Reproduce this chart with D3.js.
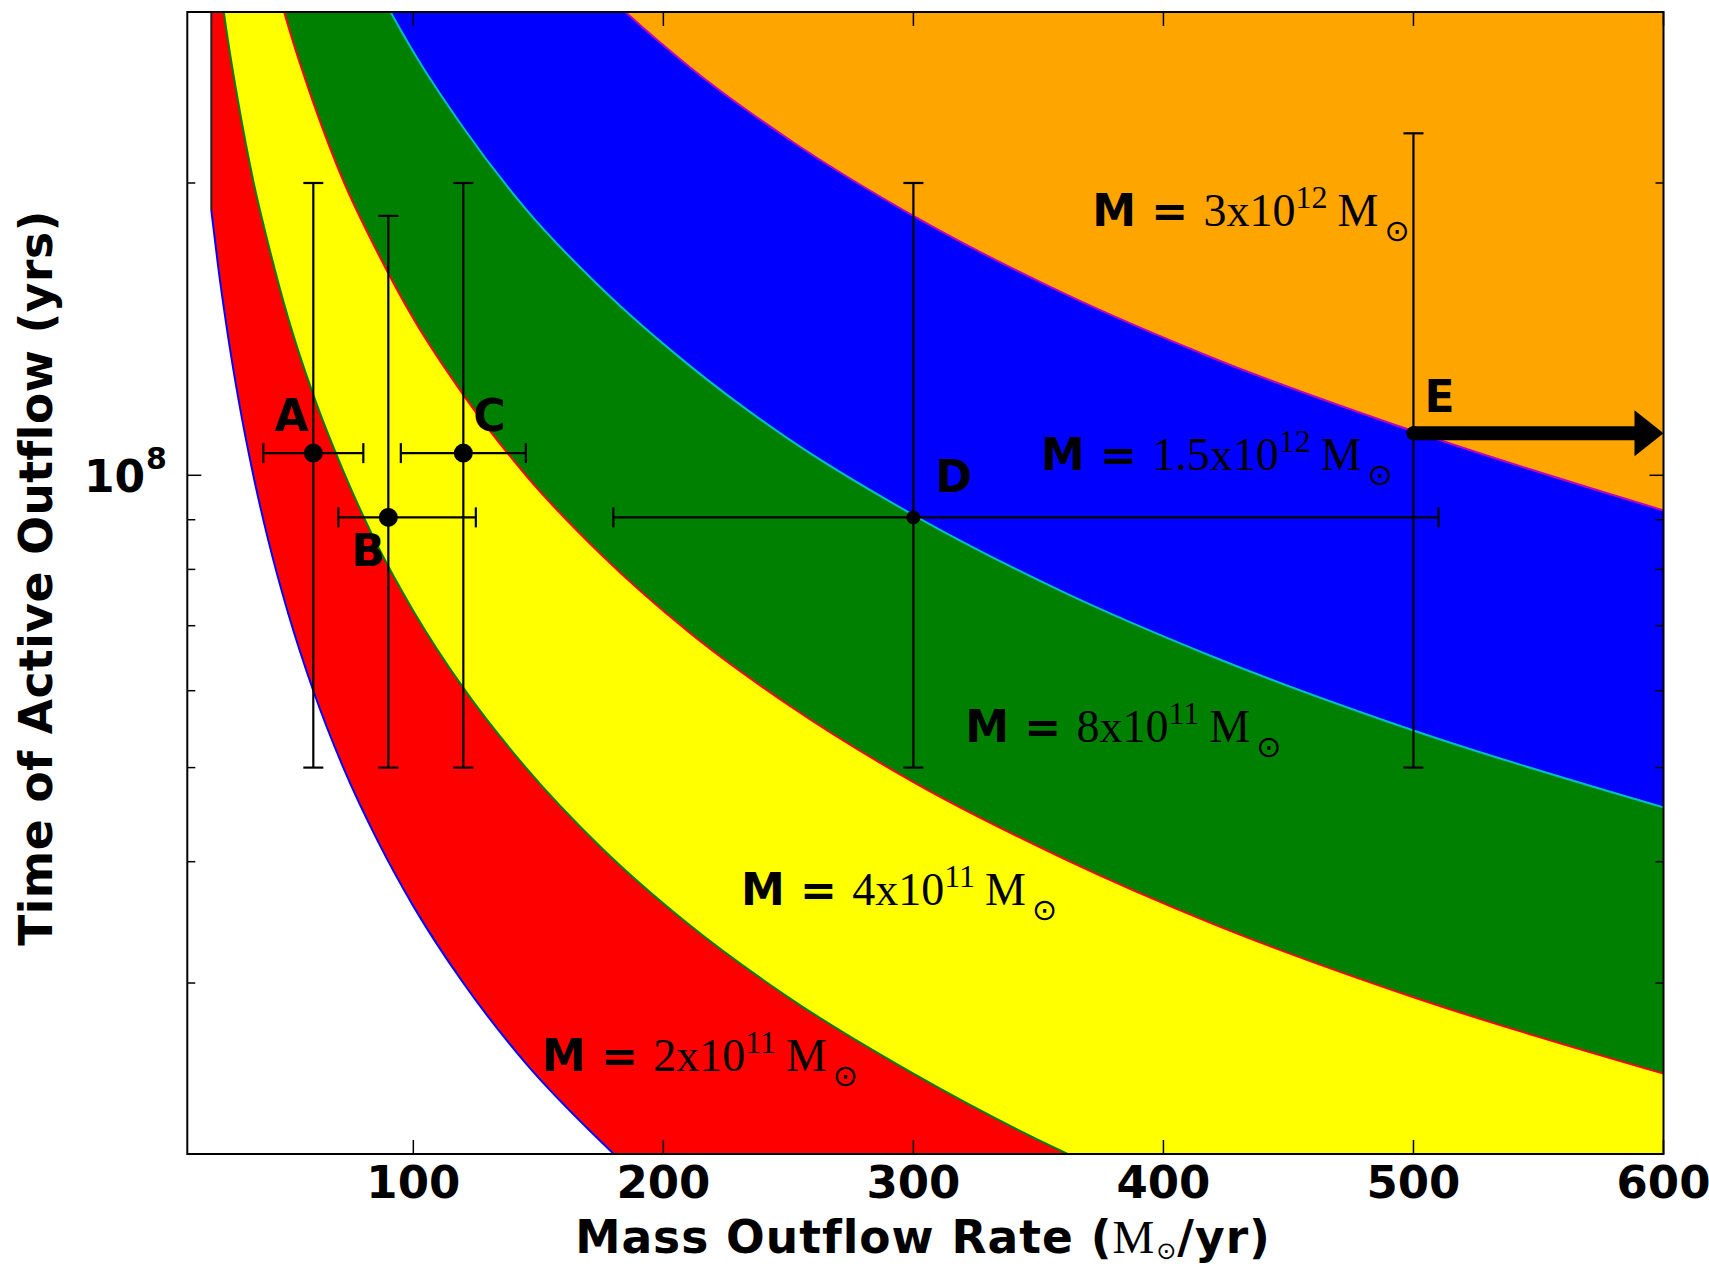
<!DOCTYPE html>
<html>
<head>
<meta charset="utf-8">
<script src="https://cdn.jsdelivr.net/npm/d3@7"></script>
<style>
  html, body { margin: 0; padding: 0; background: #fff; }
  svg text { white-space: pre; }
</style>
</head>
<body>
<svg id="chart" width="1709" height="1267"></svg>
<script>
// ---------------- DATA ----------------
// sampled mass outflow rate (Msun/yr) at which the boundary curves are read
const rateSamples = [19.2, 22, 26, 30, 36, 42, 50, 60, 72, 86, 100, 120, 145, 175, 210, 250, 300, 360, 420, 500, 600];
// boundary curves: time of active outflow (yrs) read at each sample rate
const boundary1 = [1.875e8, 1.636e8, 1.385e8, 1.2e8, 1.0e8, 8.57e7, 7.2e7, 6.0e7, 5.0e7, 4.19e7, 3.6e7, 3.0e7, 2.48e7, 2.06e7, 1.71e7, 1.44e7, 1.2e7, 1.0e7, 8.57e6, 7.2e6, 6.0e6];
const boundary2 = [3.78e8, 3.30e8, 2.79e8, 2.42e8, 2.01e8, 1.73e8, 1.45e8, 1.21e8, 1.01e8, 8.43e7, 7.25e7, 6.04e7, 5.0e7, 4.14e7, 3.45e7, 2.9e7, 2.42e7, 2.01e7, 1.73e7, 1.45e7, 1.21e7];
const boundary3 = [7.55e8, 6.59e8, 5.58e8, 4.83e8, 4.03e8, 3.45e8, 2.9e8, 2.42e8, 2.01e8, 1.69e8, 1.45e8, 1.21e8, 1.0e8, 8.29e7, 6.9e7, 5.8e7, 4.83e7, 4.03e7, 3.45e7, 2.9e7, 2.42e7];
const boundary4 = [1.42e9, 1.24e9, 1.05e9, 9.1e8, 7.58e8, 6.5e8, 5.46e8, 4.55e8, 3.79e8, 3.17e8, 2.73e8, 2.28e8, 1.88e8, 1.56e8, 1.3e8, 1.09e8, 9.1e7, 7.58e7, 6.5e7, 5.46e7, 4.55e7];
const boundary5 = [2.88e9, 2.52e9, 2.14e9, 1.85e9, 1.54e9, 1.32e9, 1.11e9, 9.25e8, 7.7e8, 6.45e8, 5.55e8, 4.62e8, 3.83e8, 3.17e8, 2.64e8, 2.22e8, 1.85e8, 1.54e8, 1.32e8, 1.11e8, 9.2e7];

// band labels
const bandMantissa = ["2", "4", "8", "1.5", "3"];
const bandExponent = ["11", "11", "11", "12", "12"];
const bandLabelX = [151.4, 231, 320.7, 351, 371.5];
const bandLabelY = [2.435e7, 3.61e7, 5.31e7, 1.012e8, 1.805e8];

// observed outflows
const pointNames = ["A", "B", "C", "D", "E"];
const pointRate = [60, 90, 120, 300, 500];
const pointTime = [1.054e8, 9.05e7, 1.054e8, 9.05e7, 1.105e8];
const rateErrLow = [40, 70, 95, 180, null];
const rateErrHigh = [80, 125, 145, 510, null];
const timeErrLow = [5e7, 5e7, 5e7, 5e7, 5e7];
const timeErrHigh = [2e8, 1.85e8, 2e8, 2e8, 2.25e8];
const lowerLimit = [false, false, false, false, true];

// axes
const xDomain = [9.6, 600];
const yDomain = [2e7, 3e8];
const xTicks = [100, 200, 300, 400, 500, 600];
const yMajorTicks = [1e8];
const yMinorTicks = [2e7, 3e7, 4e7, 5e7, 6e7, 7e7, 8e7, 9e7, 2e8, 3e8];

// ---------------- STYLE / LAYOUT ----------------
const bandFill = ["#ff0000", "#ffff00", "#008000", "#0000ff", "#ffa500"];
const boundaryStroke = ["#0000ff", "#008000", "#ff0000", "#00bfbf", "#bf00bf"];
const labelOffsets = { A: [-39, -22], B: [-37, 49], C: [10, -22], D: [22, -25], E: [11, -21] };
const plot = { left: 187.3, right: 1663.5, top: 12, bottom: 1154 };
const SANS = "'DejaVu Sans', sans-serif";
const SERIF = "'Liberation Serif', 'DejaVu Serif', serif";
const FS = 44;

const svg = d3.select("#chart");
const x = d3.scaleLinear().domain(xDomain).range([plot.left, plot.right]);
const y = d3.scaleLog().domain(yDomain).range([plot.bottom, plot.top]);

svg.append("defs").append("clipPath").attr("id", "clip")
  .append("rect").attr("x", plot.left).attr("y", plot.top)
  .attr("width", plot.right - plot.left).attr("height", plot.bottom - plot.top);

const g = svg.append("g").attr("clip-path", "url(#clip)");

const boundaries = [boundary1, boundary2, boundary3, boundary4, boundary5];
const rows = rateSamples.map((r, i) => ({ r, b: boundaries.map(b => b[i]) }));

// bands
for (let k = 0; k < 5; k++) {
  const area = d3.area()
    .x(d => x(d.r))
    .y0(d => y(d.b[k]))
    .y1(d => k < 4 ? y(d.b[k + 1]) : y.range()[1] - 5)
    .curve(d3.curveMonotoneX);
  g.append("path").datum(rows).attr("d", area).attr("fill", bandFill[k]);
}
// left edge of the filled region
g.append("line")
  .attr("x1", x(rateSamples[0])).attr("x2", x(rateSamples[0]))
  .attr("y1", y.range()[1] - 5).attr("y2", y(boundary1[0]))
  .attr("stroke", "#222").attr("stroke-width", 2);
// boundary curves
for (let k = 0; k < 5; k++) {
  const line = d3.line().x(d => x(d.r)).y(d => y(d.b[k])).curve(d3.curveMonotoneX);
  g.append("path").datum(rows).attr("d", line).attr("fill", "none")
    .attr("stroke", boundaryStroke[k]).attr("stroke-width", 2);
}

// band labels
function massLabel(parent, px, py, mant, expo) {
  const t = parent.append("text").attr("x", px).attr("y", py).attr("font-size", FS).attr("fill", "#000");
  t.append("tspan").attr("font-family", SANS).attr("font-weight", "bold").text("M = ");
  t.append("tspan").attr("font-family", SERIF).attr("font-size", 46).text(mant + "x10");
  t.append("tspan").attr("font-family", SERIF).attr("font-size", 32).attr("dy", -18).text(expo);
  t.append("tspan").attr("font-family", SERIF).attr("font-size", 46).attr("dy", 18).attr("dx", 10).text("M");
  t.append("tspan").attr("font-family", SANS).attr("font-size", 30).attr("dy", 15).attr("dx", 6).text("\u2299");
}
for (let i = 0; i < bandMantissa.length; i++) {
  massLabel(svg, x(bandLabelX[i]), y(bandLabelY[i]), bandMantissa[i], bandExponent[i]);
}

// error bars and points
const eb = svg.append("g").attr("stroke", "#000").attr("stroke-width", 2.2).attr("fill", "none");
const cap = 10;
pointNames.forEach((name, i) => {
  const px = x(pointRate[i]), py = y(pointTime[i]);
  const yl = y(timeErrLow[i]), yh = y(timeErrHigh[i]);
  eb.append("line").attr("x1", px).attr("x2", px).attr("y1", yl).attr("y2", yh);
  eb.append("line").attr("x1", px - cap).attr("x2", px + cap).attr("y1", yl).attr("y2", yl);
  eb.append("line").attr("x1", px - cap).attr("x2", px + cap).attr("y1", yh).attr("y2", yh);
  if (rateErrLow[i] != null) {
    const xl = x(rateErrLow[i]), xh = x(rateErrHigh[i]);
    eb.append("line").attr("x1", xl).attr("x2", xh).attr("y1", py).attr("y2", py);
    eb.append("line").attr("x1", xl).attr("x2", xl).attr("y1", py - cap).attr("y2", py + cap);
    eb.append("line").attr("x1", xh).attr("x2", xh).attr("y1", py - cap).attr("y2", py + cap);
  }
  if (lowerLimit[i]) {
    const xEnd = x(xDomain[1]);
    const head = 29, hh = 23;
    svg.append("line").attr("x1", px).attr("x2", xEnd - head + 2).attr("y1", py).attr("y2", py)
      .attr("stroke", "#000").attr("stroke-width", 14).attr("stroke-linecap", "round");
    svg.append("path")
      .attr("d", `M${xEnd},${py} L${xEnd - head},${py - hh} L${xEnd - head},${py + hh} Z`)
      .attr("fill", "#000");
  }
  svg.append("circle").attr("cx", px).attr("cy", py).attr("r", lowerLimit[i] || name === "D" ? 7 : 9.5).attr("fill", "#000");
  const off = labelOffsets[name];
  svg.append("text").attr("x", px + off[0]).attr("y", py + off[1])
    .attr("font-family", SANS).attr("font-weight", "bold").attr("font-size", FS).text(name);
});

// axes frame and ticks
const ax = svg.append("g").attr("stroke", "#000");
ax.append("rect").attr("x", plot.left).attr("y", plot.top)
  .attr("width", plot.right - plot.left).attr("height", plot.bottom - plot.top)
  .attr("fill", "none").attr("stroke-width", 2);
const major = 14, minor = 8;
xTicks.forEach(v => {
  const px = x(v);
  ax.append("line").attr("x1", px).attr("x2", px).attr("y1", plot.bottom).attr("y2", plot.bottom - major).attr("stroke-width", 1.5);
  ax.append("line").attr("x1", px).attr("x2", px).attr("y1", plot.top).attr("y2", plot.top + major).attr("stroke-width", 1.5);
  svg.append("text").attr("x", px).attr("y", 1198).attr("text-anchor", "middle")
    .attr("font-family", SANS).attr("font-weight", "bold").attr("font-size", 45).text(v);
});
function yTick(v, len) {
  const py = y(v);
  ax.append("line").attr("x1", plot.left).attr("x2", plot.left + len).attr("y1", py).attr("y2", py).attr("stroke-width", 1.5);
  ax.append("line").attr("x1", plot.right).attr("x2", plot.right - len).attr("y1", py).attr("y2", py).attr("stroke-width", 1.5);
}
yMinorTicks.forEach(v => yTick(v, minor));
yMajorTicks.forEach(v => {
  yTick(v, major);
  const py = y(v);
  svg.append("text").attr("x", 84).attr("y", py + 17)
    .attr("font-family", SANS).attr("font-weight", "bold").attr("font-size", FS).text("10");
  svg.append("text").attr("x", 146).attr("y", py - 6)
    .attr("font-family", SANS).attr("font-weight", "bold").attr("font-size", 30)
    .text(String(Math.round(Math.log10(v))));
});

// axis labels
const xl = svg.append("text").attr("x", 923).attr("y", 1253).attr("text-anchor", "middle")
  .attr("font-size", 45.5).attr("letter-spacing", 1);
xl.append("tspan").attr("font-family", SANS).attr("font-weight", "bold").text("Mass Outflow Rate (");
xl.append("tspan").attr("font-family", SERIF).attr("font-size", 47).text("M");
xl.append("tspan").attr("font-family", SANS).attr("font-size", 24).attr("dy", 6).attr("dx", 1).text("\u2299");
xl.append("tspan").attr("font-family", SANS).attr("font-weight", "bold").attr("dy", -6).text("/yr)");

svg.append("text").attr("transform", "translate(52,578) rotate(-90)").attr("text-anchor", "middle")
  .attr("font-family", SANS).attr("font-weight", "bold").attr("font-size", 45.5).attr("letter-spacing", 0.5)
  .text("Time of Active Outflow (yrs)");
</script>
</body>
</html>
